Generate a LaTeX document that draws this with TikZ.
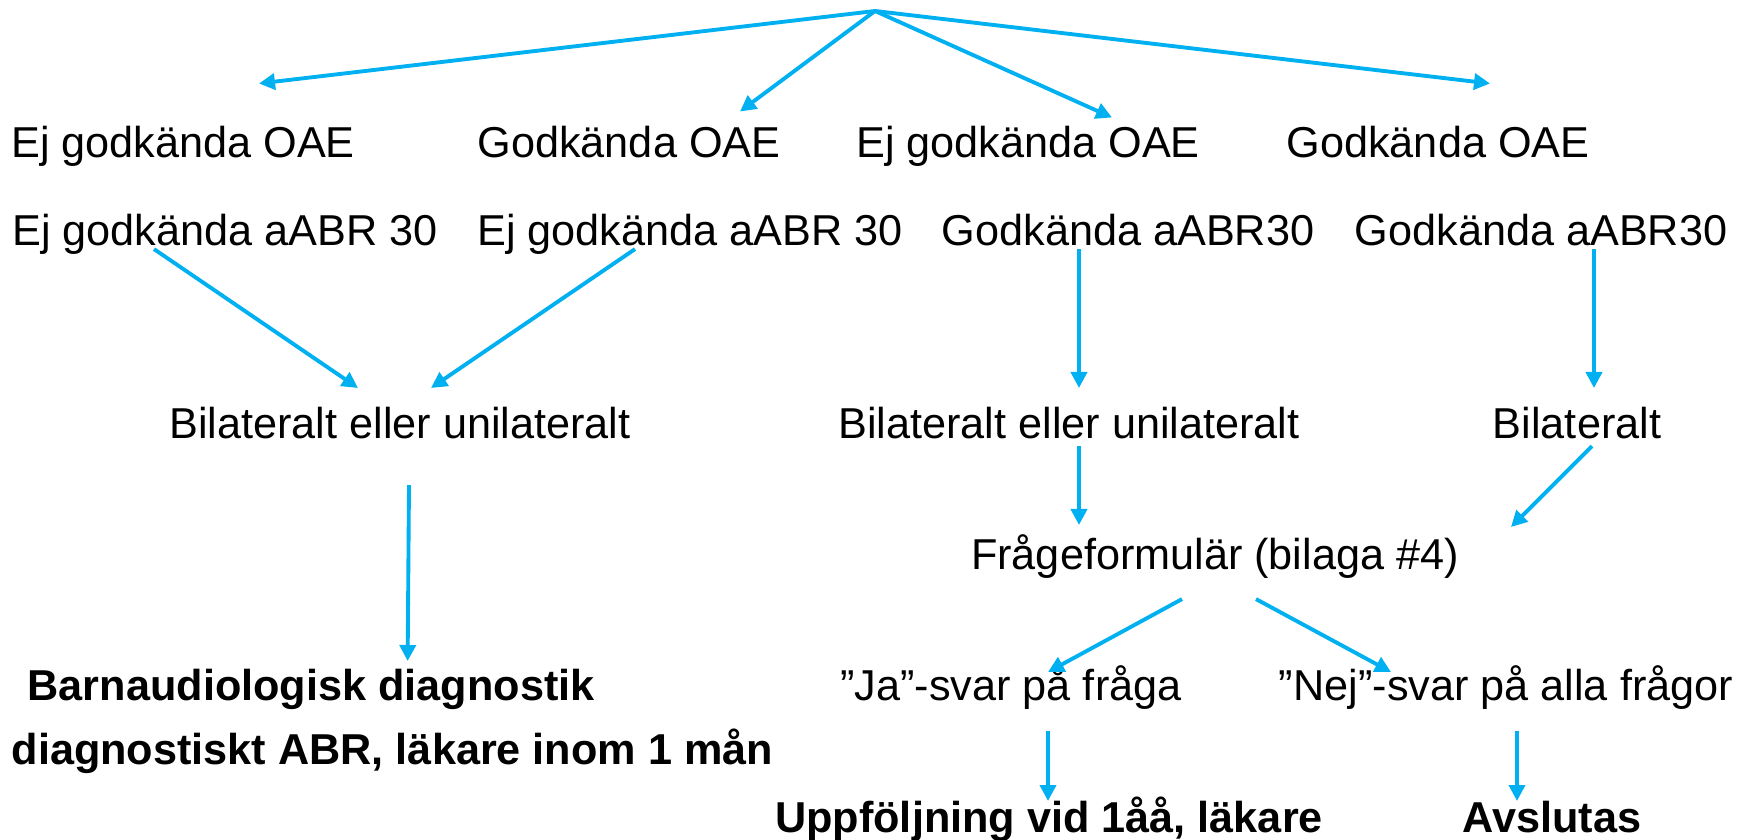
\documentclass[tikz,border=0pt]{standalone}
\usepackage{fontspec}
\setmainfont{Liberation Sans}
\usepackage{tikz}
\usepackage{xcolor}
\usetikzlibrary{arrows.meta, positioning}

\definecolor{flowblue}{RGB}{0,176,240}

\begin{document}
\begin{tikzpicture}[
    txt/.style={anchor=base, inner sep=0pt, text height=0.72em, text depth=0.21em,
                font=\fontsize{12.3}{14}\selectfont},
    boldtxt/.style={txt, font=\fontsize{12.3}{14}\selectfont\bfseries},
    arr/.style={flowblue, line width=1.1pt, -{Triangle[length=1.6mm, width=1.6mm]}}
]
    \useasboundingbox (0,0) rectangle (17.52,8.39);

    % Top split
    \coordinate (top) at (8.75,8.28);

    % OAE row
    \node[txt] (oae1) at (1.83,6.815) {Ej godkända OAE};
    \node[txt] (oae2) at (6.29,6.815) {Godkända OAE};
    \node[txt] (oae3) at (10.28,6.815) {Ej godkända OAE};
    \node[txt] (oae4) at (14.38,6.815) {Godkända OAE};

    % aABR row
    \node[txt] (abr1) at (2.25,5.94) {Ej godkända aABR 30};
    \node[txt] (abr2) at (6.90,5.94) {Ej godkända aABR 30};
    \node[txt] (abr3) at (11.28,5.94) {Godkända aABR30};
    \node[txt] (abr4) at (15.41,5.94) {Godkända aABR30};

    % Side
    \node[txt] (side1) at (4.00,4.01) {Bilateralt eller unilateralt};
    \node[txt] (side2) at (10.69,4.01) {Bilateralt eller unilateralt};
    \node[txt] (side3) at (15.77,4.01) {Bilateralt};

    % Form
    \node[txt] (form) at (12.15,2.70) {Frågeformulär (bilaga \#4)};

    % Outcomes
    \node[boldtxt, anchor=base west] (diag) at (0.27,1.39) {Barnaudiologisk diagnostik};
    \node[boldtxt, anchor=base west] (diag2) at (0.11,0.75) {diagnostiskt ABR, läkare inom 1 mån};
    \node[txt] (ja) at (10.11,1.39) {”Ja”-svar på fråga};
    \node[txt] (nej) at (15.06,1.39) {”Nej”-svar på alla frågor};
    \node[boldtxt] (follow) at (10.49,0.07) {Uppföljning vid 1åå, läkare};
    \node[boldtxt] (done) at (15.52,0.07) {Avslutas};

    % Top arrows
    \draw[arr] (top) -- ([xshift=7.6mm, yshift=4.8mm]oae1.north);
    \draw[arr] (top) -- ([xshift=11.1mm, yshift=2.0mm]oae2.north);
    \draw[arr] (top) -- ([xshift=8.4mm, yshift=1.4mm]oae3.north);
    \draw[arr] (top) -- ([xshift=5.2mm, yshift=4.8mm]oae4.north);

    % aABR to side
    \draw[arr] ([xshift=-7.1mm, yshift=0.4mm]abr1.south) -- ([xshift=-4.2mm, yshift=2.4mm]side1.north);
    \draw[arr] ([xshift=-5.5mm, yshift=0.4mm]abr2.south) -- ([xshift=3.1mm, yshift=2.4mm]side1.north);
    \draw[arr] ([xshift=-4.9mm, yshift=0.4mm]abr3.south) -- ([xshift=1.0mm, yshift=2.4mm]side2.north);
    \draw[arr] ([xshift=5.3mm, yshift=0.4mm]abr4.south) -- ([xshift=1.7mm, yshift=2.4mm]side3.north);

    % Side to next step
    \draw[arr] ([xshift=0.9mm, yshift=-3.9mm]side1.south) -- ([xshift=9.65mm, yshift=1.3mm]diag.north);
    \draw[arr] ([xshift=1.0mm]side2.south) -- ([xshift=-13.6mm, yshift=1.8mm]form.north);
    \draw[arr] ([xshift=1.5mm]side3.south) -- ([xshift=29.6mm, yshift=1.6mm]form.north);

    % Form to answers
    \draw[arr] ([xshift=-3.3mm, yshift=-2.2mm]form.south) -- ([xshift=3.7mm, yshift=0.2mm]ja.north);
    \draw[arr] ([xshift=4.1mm, yshift=-2.2mm]form.south) -- ([xshift=-11.5mm, yshift=0.2mm]nej.north);

    % Answers to outcome
    \draw[arr] ([xshift=3.7mm, yshift=-2.3mm]ja.south) -- ([xshift=-0.1mm, yshift=0.5mm]follow.north);
    \draw[arr] ([xshift=1.1mm, yshift=-2.3mm]nej.south) -- ([xshift=-3.5mm, yshift=0.5mm]done.north);
\end{tikzpicture}
\end{document}
